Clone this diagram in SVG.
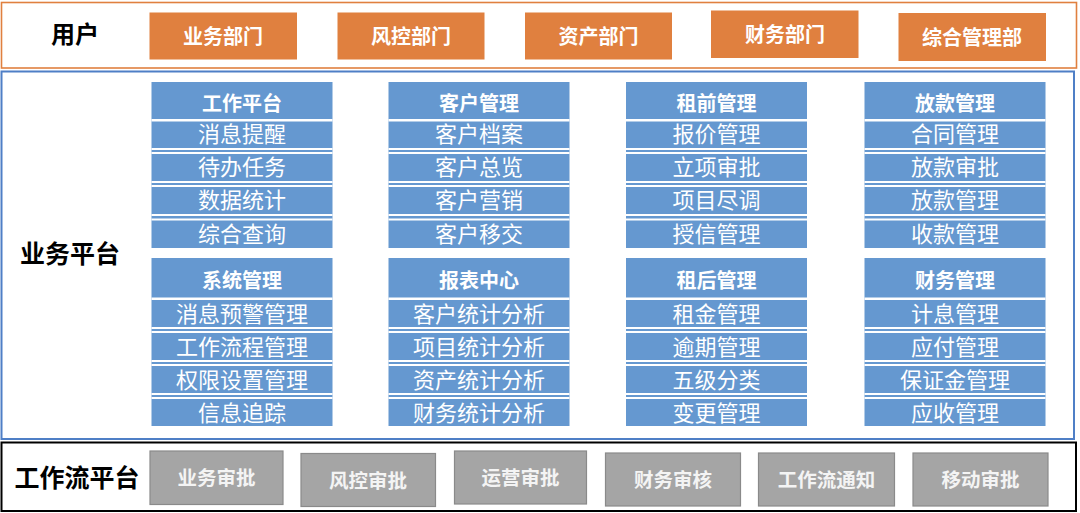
<svg xmlns="http://www.w3.org/2000/svg" xmlns:xlink="http://www.w3.org/1999/xlink" width="1080" height="513" viewBox="0 0 1080 513">
<style>
text{font-family:"Noto Sans CJK SC","Microsoft YaHei",sans-serif;text-anchor:middle;dominant-baseline:central}
.lbl{font-size:24px;font-weight:bold;fill:#000}
.org{fill:#e0803f}
.ot{font-size:20px;font-weight:bold;fill:#ffffff}
.blu{fill:#6598d0}
.hd{font-size:20px;font-weight:bold;fill:#ffffff}
.it{font-size:22px;fill:#ffffff}
.gry{fill:#a5a5a5;stroke:#8a8a8a;stroke-width:1.2}
.gt{font-size:19.5px;font-weight:bold;fill:#f4f4f4}
.sep{fill:#ffffff}
</style>
<defs>
<g id="sepTop">
<rect class="sep" x="0" y="119" width="181" height="2.5"/>
<rect class="sep" x="0" y="148" width="181" height="2"/>
<rect class="sep" x="0" y="152" width="181" height="2"/>
<rect class="sep" x="0" y="181" width="181" height="2"/>
<rect class="sep" x="0" y="185" width="181" height="2"/>
<rect class="sep" x="0" y="214" width="181" height="2"/>
<rect class="sep" x="0" y="218.5" width="181" height="2"/>
</g>
<g id="sepBot">
<rect class="sep" x="0" y="297.5" width="181" height="2.5"/>
<rect class="sep" x="0" y="327" width="181" height="2"/>
<rect class="sep" x="0" y="331" width="181" height="2"/>
<rect class="sep" x="0" y="360" width="181" height="2"/>
<rect class="sep" x="0" y="364" width="181" height="2"/>
<rect class="sep" x="0" y="393" width="181" height="2"/>
<rect class="sep" x="0" y="397" width="181" height="2"/>
</g>
</defs>
<rect x="0" y="0" width="1080" height="513" fill="#ffffff"/>

<g id="layer-user">
<rect x="1.5" y="2.5" width="1075" height="65.5" fill="#ffffff" stroke="#e0803f" stroke-width="1.6"/>
<text class="lbl" x="75" y="32">用户</text>
</g>
<g id="user-yewu"><rect class="org" x="149.5" y="12.5" width="147.5" height="47"/><text class="ot" x="223" y="35">业务部门</text></g>
<g id="user-fengkong"><rect class="org" x="337.5" y="12.5" width="147" height="47"/><text class="ot" x="411" y="35">风控部门</text></g>
<g id="user-zichan"><rect class="org" x="525" y="12.5" width="147" height="47"/><text class="ot" x="598.5" y="35">资产部门</text></g>
<g id="user-caiwu"><rect class="org" x="711" y="10.5" width="147.5" height="47.5"/><text class="ot" x="785" y="33">财务部门</text></g>
<g id="user-zonghe"><rect class="org" x="898.5" y="13" width="147.5" height="48"/><text class="ot" x="972" y="36">综合管理部</text></g>

<g id="layer-business">
<rect x="1.5" y="71.5" width="1072.5" height="367.5" fill="#ffffff" stroke="#4f7fc6" stroke-width="2"/>
<text class="lbl" x="70" y="252" style="font-size:25px">业务平台</text>
</g>

<g id="col-gongzuo">
<rect class="blu" x="151.5" y="82" width="181" height="166"/>
<use xlink:href="#sepTop" x="151.5"/>
<text class="hd" x="242" y="102.5">工作平台</text>
<text class="it" x="242" y="132">消息提醒</text>
<text class="it" x="242" y="165">待办任务</text>
<text class="it" x="242" y="198">数据统计</text>
<text class="it" x="242" y="231.5">综合查询</text>
</g>
<g id="col-kehu">
<rect class="blu" x="388.5" y="82" width="181" height="166"/>
<use xlink:href="#sepTop" x="388.5"/>
<text class="hd" x="479" y="102.5">客户管理</text>
<text class="it" x="479" y="132">客户档案</text>
<text class="it" x="479" y="165">客户总览</text>
<text class="it" x="479" y="198">客户营销</text>
<text class="it" x="479" y="231.5">客户移交</text>
</g>
<g id="col-zuqian">
<rect class="blu" x="626" y="82" width="181" height="166"/>
<use xlink:href="#sepTop" x="626"/>
<text class="hd" x="716.5" y="102.5">租前管理</text>
<text class="it" x="716.5" y="132">报价管理</text>
<text class="it" x="716.5" y="165">立项审批</text>
<text class="it" x="716.5" y="198">项目尽调</text>
<text class="it" x="716.5" y="231.5">授信管理</text>
</g>
<g id="col-fangkuan">
<rect class="blu" x="864.5" y="82" width="181" height="166"/>
<use xlink:href="#sepTop" x="864.5"/>
<text class="hd" x="955" y="102.5">放款管理</text>
<text class="it" x="955" y="132">合同管理</text>
<text class="it" x="955" y="165">放款审批</text>
<text class="it" x="955" y="198">放款管理</text>
<text class="it" x="955" y="231.5">收款管理</text>
</g>

<g id="col-xitong">
<rect class="blu" x="151.5" y="258" width="181" height="168"/>
<use xlink:href="#sepBot" x="151.5"/>
<text class="hd" x="242" y="279">系统管理</text>
<text class="it" x="242" y="311.5">消息预警管理</text>
<text class="it" x="242" y="344.5">工作流程管理</text>
<text class="it" x="242" y="377.5">权限设置管理</text>
<text class="it" x="242" y="410.5">信息追踪</text>
</g>
<g id="col-baobiao">
<rect class="blu" x="388.5" y="258" width="181" height="168"/>
<use xlink:href="#sepBot" x="388.5"/>
<text class="hd" x="479" y="279">报表中心</text>
<text class="it" x="479" y="311.5">客户统计分析</text>
<text class="it" x="479" y="344.5">项目统计分析</text>
<text class="it" x="479" y="377.5">资产统计分析</text>
<text class="it" x="479" y="410.5">财务统计分析</text>
</g>
<g id="col-zuhou">
<rect class="blu" x="626" y="258" width="181" height="168"/>
<use xlink:href="#sepBot" x="626"/>
<text class="hd" x="716.5" y="279">租后管理</text>
<text class="it" x="716.5" y="311.5">租金管理</text>
<text class="it" x="716.5" y="344.5">逾期管理</text>
<text class="it" x="716.5" y="377.5">五级分类</text>
<text class="it" x="716.5" y="410.5">变更管理</text>
</g>
<g id="col-caiwu">
<rect class="blu" x="864.5" y="258" width="181" height="168"/>
<use xlink:href="#sepBot" x="864.5"/>
<text class="hd" x="955" y="279">财务管理</text>
<text class="it" x="955" y="311.5">计息管理</text>
<text class="it" x="955" y="344.5">应付管理</text>
<text class="it" x="955" y="377.5">保证金管理</text>
<text class="it" x="955" y="410.5">应收管理</text>
</g>

<g id="layer-workflow">
<rect x="1.5" y="442.5" width="1074.5" height="68.5" fill="#ffffff" stroke="#000000" stroke-width="2"/>
<text class="lbl" x="77" y="476" style="font-size:25px">工作流平台</text>
</g>
<g id="wf-yewu"><rect class="gry" x="150" y="451" width="133" height="53.5"/><text class="gt" x="216.5" y="476">业务审批</text></g>
<g id="wf-fengkong"><rect class="gry" x="301" y="453.5" width="134.5" height="53"/><text class="gt" x="368" y="479">风控审批</text></g>
<g id="wf-yunying"><rect class="gry" x="454.5" y="451" width="132" height="53"/><text class="gt" x="520.5" y="476">运营审批</text></g>
<g id="wf-caiwu"><rect class="gry" x="605.5" y="453" width="135" height="53"/><text class="gt" x="673" y="478">财务审核</text></g>
<g id="wf-tongzhi"><rect class="gry" x="758.5" y="453" width="136" height="53"/><text class="gt" x="826.5" y="478">工作流通知</text></g>
<g id="wf-yidong"><rect class="gry" x="913" y="453" width="135" height="53"/><text class="gt" x="980.5" y="478">移动审批</text></g>
<g id="connectors"></g>
</svg>
